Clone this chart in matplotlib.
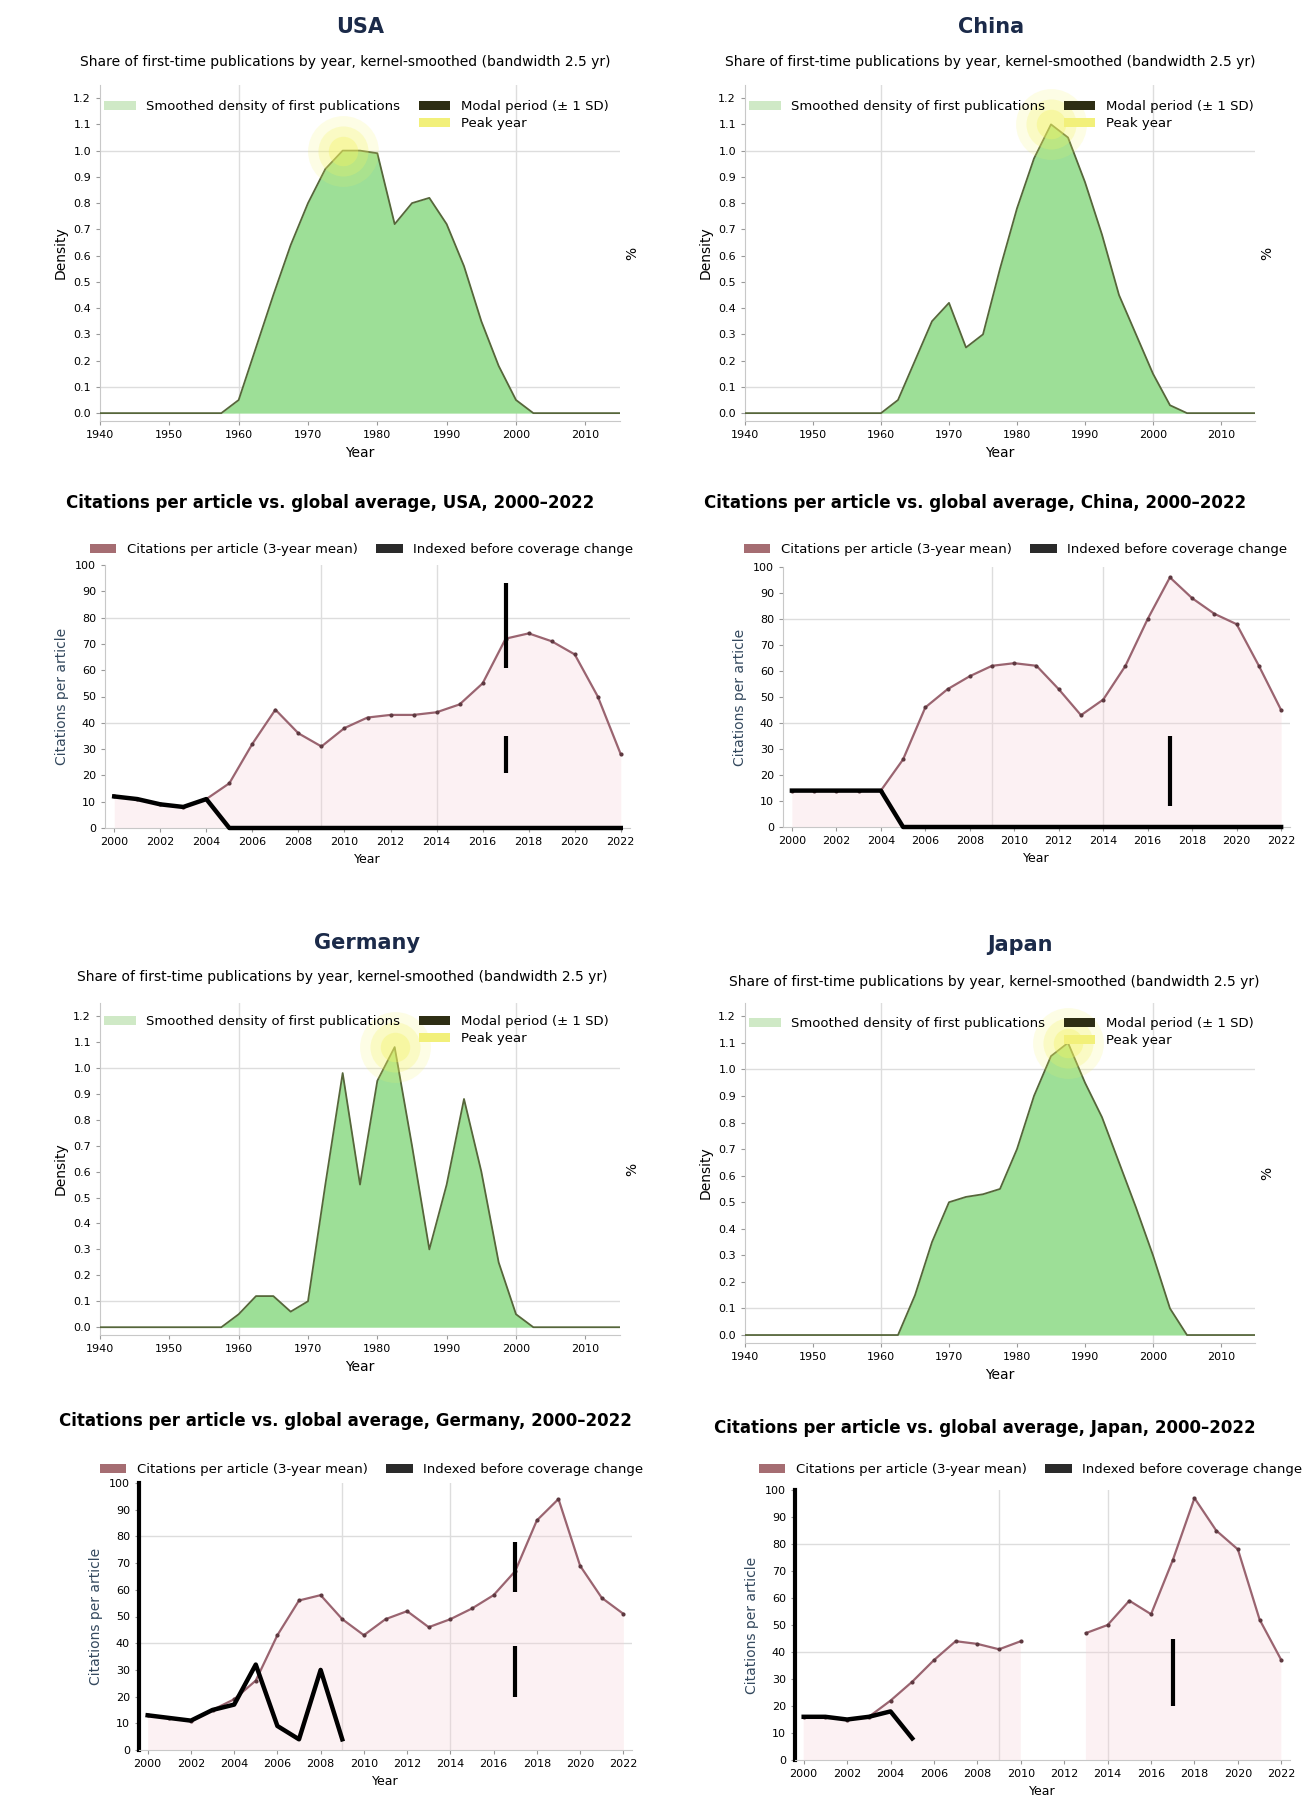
import numpy as np
import matplotlib
matplotlib.use("Agg")
import matplotlib.pyplot as plt
from matplotlib.patches import Patch

W, H = 1303, 1807

# ---- data ----
area_years = np.arange(1940, 2015.1, 2.5)
line_years = np.arange(2000, 2023)

countries = ["USA", "China", "Germany", "Japan"]

dens_usa = [0, 0, 0, 0, 0, 0, 0, 0, 0.05, 0.25, 0.45, 0.64, 0.80, 0.93, 1.00, 1.00,
            0.99, 0.72, 0.80, 0.82, 0.72, 0.56, 0.35, 0.18, 0.05, 0, 0, 0, 0, 0, 0]
dens_china = [0, 0, 0, 0, 0, 0, 0, 0, 0, 0.05, 0.20, 0.35, 0.42, 0.25, 0.30, 0.55,
              0.78, 0.97, 1.10, 1.05, 0.88, 0.68, 0.45, 0.30, 0.15, 0.03, 0, 0, 0, 0, 0]
dens_germany = [0, 0, 0, 0, 0, 0, 0, 0, 0.05, 0.12, 0.12, 0.06, 0.10, 0.55, 0.98, 0.55,
                0.95, 1.08, 0.70, 0.30, 0.55, 0.88, 0.60, 0.25, 0.05, 0, 0, 0, 0, 0, 0]
dens_japan = [0, 0, 0, 0, 0, 0, 0, 0, 0, 0, 0.15, 0.35, 0.50, 0.52, 0.53, 0.55,
              0.70, 0.90, 1.05, 1.10, 0.95, 0.82, 0.65, 0.48, 0.30, 0.10, 0, 0, 0, 0, 0]

nan = np.nan
cites_usa = [12, 11, 9, 8, 11, 17, 32, 45, 36, 31, 38, 42, 43, 43, 44, 47, 55, 72, 74, 71, 66, 50, 28]
early_usa = [12, 11, 9, 8, 11, 0, 0, 0, 0, 0, 0, 0, 0, 0, 0, 0, 0, 0, 0, 0, 0, 0, 0]
cites_china = [14, 14, 14, 14, 14, 26, 46, 53, 58, 62, 63, 62, 53, 43, 49, 62, 80, 96, 88, 82, 78, 62, 45]
early_china = [14, 14, 14, 14, 14, 0, 0, 0, 0, 0, 0, 0, 0, 0, 0, 0, 0, 0, 0, 0, 0, 0, 0]
cites_germany = [13, 12, 11, 15, 19, 26, 43, 56, 58, 49, 43, 49, 52, 46, 49, 53, 58, 67, 86, 94, 69, 57, 51]
early_germany = [13, 12, 11, 15, 17, 32, 9, 4, 30, 4, nan, nan, nan, nan, nan, nan, nan, nan,
                 nan, nan, nan, nan, nan]
cites_japan = [16, 16, 15, 16, 22, 29, 37, 44, 43, 41, 44, nan, nan, 47, 50, 59, 54, 74, 97, 85, 78, 52, 37]
early_japan = [16, 16, 15, 16, 18, 8, nan, nan, nan, nan, nan, nan, nan, nan, nan, nan, nan,
               nan, nan, nan, nan, nan, nan]

break_year = 2017
break_lo = {"USA": [21, 61], "China": [8], "Germany": [20, 59], "Japan": [20]}
break_hi = {"USA": [35, 93], "China": [35], "Germany": [39, 78], "Japan": [45]}

GREEN = "#9ddf97"
PINK = "#9a6470"
NAVY = "#1b2a49"

plt.rcParams["font.family"] = "DejaVu Sans"

fig = plt.figure(figsize=(W / 100, H / 100), dpi=100)


def box(l, t, r, b):
    return [l / W, 1 - b / H, (r - l) / W, (b - t) / H]


def ftext(x, y, s, **kw):
    fig.text(x / W, 1 - y / H, s, ha="center", va="center", **kw)


def area_panel(rect, dens, name, tpos, spos, lpos):
    ax = fig.add_axes(box(*rect))
    d = np.array(dens)
    ax.fill_between(area_years, d, color=GREEN, lw=0, zorder=2)
    ax.plot(area_years, d, color="#56663a", lw=1.3, zorder=3)
    i = int(np.argmax(d))
    for s, a in [(2600, 0.16), (1300, 0.25), (450, 0.35)]:
        ax.scatter(area_years[i], d[i], s=s, color="#f4f463", alpha=a, lw=0, zorder=4)
    for yv in (0.1, 1.0):
        ax.axhline(yv, color="#dddddd", lw=1, zorder=1)
    for xv in (1960, 2000):
        ax.axvline(xv, color="#dddddd", lw=1, zorder=1)
    ax.set_xlim(1940, 2015)
    ax.set_ylim(-0.03, 1.25)
    ax.set_xticks(range(1940, 2011, 10))
    ax.set_yticks(np.arange(0, 1.21, 0.1))
    ax.set_yticklabels([f"{v:.1f}" for v in np.arange(0, 1.21, 0.1)])
    ax.tick_params(labelsize=8, length=3, color="#999999")
    for sp in ("top", "right"):
        ax.spines[sp].set_visible(False)
    for sp in ("left", "bottom"):
        ax.spines[sp].set_color("#c8c8c8")
    ax.set_xlabel("Year", fontsize=10)
    ax.set_ylabel("Density", fontsize=10)
    tw = ax.twinx()
    tw.set_yticks([])
    for sp in tw.spines.values():
        sp.set_visible(False)
    tw.set_ylabel("%", fontsize=10)

    ftext(*tpos, name, fontsize=15, fontweight="bold", color=NAVY)
    ftext(*spos, "Share of first-time publications by year, kernel-smoothed (bandwidth 2.5 yr)",
          fontsize=10)
    handles = [Patch(fc="#cfe9c6", ec="none"), Patch(fc="none", ec="none"),
               Patch(fc="#2e2e14", ec="none"), Patch(fc="#f2f07a", ec="none")]
    labels = ["Smoothed density of first publications", " ",
              "Modal period (\u00b1 1 SD)", "Peak year"]
    fig.legend(handles, labels, loc="upper left", bbox_to_anchor=(lpos[0] / W, 1 - lpos[1] / H),
               ncol=2, frameon=False, fontsize=9.5, handlelength=2.4, columnspacing=1.4,
               labelspacing=0.3)
    return ax


def line_panel(rect, vals, early, name, tpos, lpos, thick_left):
    ax = fig.add_axes(box(*rect))
    v = np.array(vals, dtype=float)
    ax.fill_between(line_years, v, color="#f6d3d8", alpha=0.3, lw=0, zorder=1)
    ax.plot(line_years, v, color=PINK, lw=1.6, marker="o", ms=3, mfc="#5e3940", mec="none", zorder=3)
    ax.plot(line_years, early, color="black", lw=3.2, zorder=4, clip_on=False)
    ax.vlines([break_year] * len(break_lo[name]), break_lo[name], break_hi[name],
              color="black", lw=3, zorder=5)
    for yv in (40, 80):
        ax.axhline(yv, color="#dddddd", lw=1, zorder=0)
    for xv in (2009, 2014):
        ax.axvline(xv, color="#dddddd", lw=1, zorder=0)
    ax.set_xlim(1999.6, 2022.4)
    ax.set_ylim(0, 100)
    ax.set_xticks(range(2000, 2023, 2))
    ax.set_yticks(range(0, 101, 10))
    ax.tick_params(labelsize=8, length=3, color="#999999")
    for sp in ("top", "right"):
        ax.spines[sp].set_visible(False)
    ax.spines["bottom"].set_color("#c8c8c8")
    if thick_left:
        ax.spines["left"].set_linewidth(3)
        ax.spines["left"].set_color("black")
    else:
        ax.spines["left"].set_color("#c8c8c8")
    ax.set_xlabel("Year", fontsize=9)
    ax.set_ylabel("Citations per article", fontsize=10, color="#34495e")

    ftext(*tpos, f"Citations per article vs. global average, {name}, 2000\u20132022",
          fontsize=12, fontweight="bold")
    handles = [Patch(fc="#a56d72", ec="none"), Patch(fc="#2a2a2a", ec="none")]
    labels = ["Citations per article (3-year mean)", "Indexed before coverage change"]
    fig.legend(handles, labels, loc="upper left", bbox_to_anchor=(lpos[0] / W, 1 - lpos[1] / H),
               ncol=2, frameon=False, fontsize=9.5, handlelength=2.0, columnspacing=1.4)
    return ax


area_panel((100, 85, 620, 421), dens_usa, "USA", (360, 27), (345, 62), (92, 88))
area_panel((745, 85, 1255, 421), dens_china, "China", (991, 27), (990, 62), (737, 88))
area_panel((100, 1003, 620, 1335), dens_germany, "Germany", (367, 943), (342, 977), (92, 1003))
area_panel((745, 1003, 1255, 1343), dens_japan, "Japan", (1020, 945), (994, 982), (737, 1005))

line_panel((105, 565, 630, 828), cites_usa, early_usa, "USA", (330, 503), (78, 531), False)
line_panel((783, 567, 1290, 827), cites_china, early_china, "China", (975, 503), (732, 531), False)
line_panel((139, 1483, 632, 1750), cites_germany, early_germany, "Germany", (345, 1421), (88, 1451), True)
line_panel((795, 1490, 1290, 1760), cites_japan, early_japan, "Japan", (985, 1428), (747, 1451), True)

fig.savefig("out.png", dpi=100)
